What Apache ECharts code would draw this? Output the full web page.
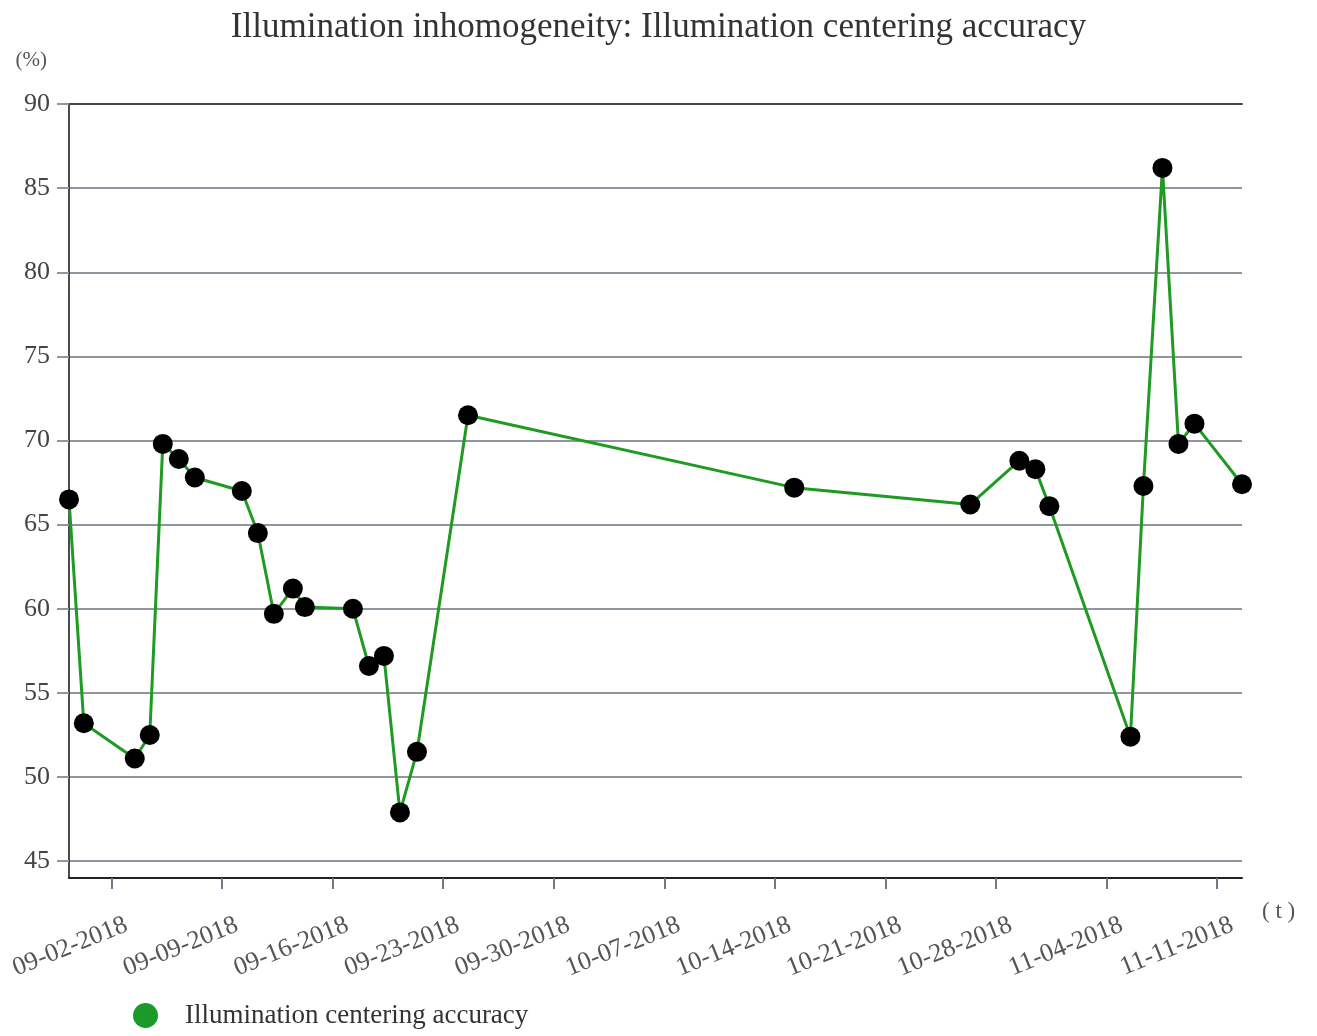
<!DOCTYPE html>
<html>
<head>
<meta charset="utf-8">
<script src="https://cdn.jsdelivr.net/npm/echarts@6/dist/echarts.min.js"></script>
<style>html,body{margin:0;padding:0;background:#fff}#c{width:1317px;height:1036px}</style>
</head>
<body>
<div id="c"></div>
<script>
const titleText = 'Illumination inhomogeneity: Illumination centering accuracy';
const seriesName = 'Illumination centering accuracy';
const dates = [
  '2018-08-30 07:30','2018-08-31 06:00','2018-09-03 11:25','2018-09-04 10:13','2018-09-05 06:00',
  '2018-09-06 06:19','2018-09-07 06:39','2018-09-10 06:06','2018-09-11 06:26','2018-09-12 06:45',
  '2018-09-13 11:38','2018-09-14 05:53','2018-09-17 06:52','2018-09-18 07:10','2018-09-19 05:58',
  '2018-09-20 06:19','2018-09-21 08:10','2018-09-24 13:42','2018-10-15 05:20','2018-10-26 08:53',
  '2018-10-29 11:23','2018-10-30 11:43','2018-10-31 09:00','2018-11-05 12:09','2018-11-06 07:55',
  '2018-11-07 12:49','2018-11-08 13:08','2018-11-09 13:28','2018-11-12 13:40'
];
const values = [
  66.5, 53.2, 51.1, 52.5, 69.8,
  68.9, 67.8, 67.0, 64.5, 59.7,
  61.2, 60.1, 60.0, 56.6, 57.2,
  47.9, 51.5, 71.5, 67.2, 66.2,
  68.8, 68.3, 66.1, 52.4, 67.3,
  86.2, 69.8, 71.0, 67.4
];
const tickDates = ['2018-09-02','2018-09-09','2018-09-16','2018-09-23','2018-09-30','2018-10-07',
  '2018-10-14','2018-10-21','2018-10-28','2018-11-04','2018-11-11'];

function parseLocal(s){
  const [d,t] = s.split(' ');
  const [y,m,dd] = d.split('-').map(Number);
  let hh=0, mm=0;
  if (t){ [hh,mm] = t.split(':').map(Number); }
  return new Date(y, m-1, dd, hh, mm).getTime();
}
const DAY = 86400000;
const LABEL_SHIFT = 0.95 * DAY;
const tickValues = tickDates.map(parseLocal);
const labelValues = tickValues.map(v => v + LABEL_SHIFT);
const pad = n => (n < 10 ? '0' : '') + n;
function fmt(v){
  const d = new Date(Math.round((v - LABEL_SHIFT) / 3600000) * 3600000);
  return pad(d.getMonth()+1) + '-' + pad(d.getDate()) + '-' + d.getFullYear();
}
const seriesData = dates.map((d,i) => [parseLocal(d), values[i]]);
const xMin = seriesData[0][0], xMax = seriesData[seriesData.length-1][0];

const FONT = 'Liberation Serif';
const chart = echarts.init(document.getElementById('c'));
chart.setOption({
  animation: false,
  backgroundColor: '#fff',
  title: {
    text: titleText, left: 'center', top: 5,
    textStyle: {fontFamily: FONT, fontSize: 35, fontWeight: 'normal', color: '#333'}
  },
  legend: {
    left: 128, top: 997, icon: 'circle', itemWidth: 25, itemHeight: 25,
    data: [{name: seriesName, itemStyle: {color: '#1b9a2a'}}],
    textStyle: {fontFamily: FONT, fontSize: 27, color: '#333', padding: [0,0,0,22]}
  },
  grid: {left: 69, right: 75, top: 104, bottom: 158, containLabel: false},
  xAxis: [{
    type: 'value',
    min: xMin, max: xMax, scale: true,
    name: '( t )', nameLocation: 'end', nameGap: 20,
    nameTextStyle: {fontFamily: FONT, fontSize: 23, color: '#555', align: 'left', verticalAlign: 'top', padding: [22,0,0,0]},
    axisLine: {show: true, lineStyle: {color: '#222', width: 2}},
    axisTick: {show: true, length: 11, lineStyle: {color: '#6e7b86', width: 2}, customValues: tickValues},
    axisLabel: {
      customValues: labelValues, rotate: 22, margin: 46, align: 'right', verticalAlign: 'middle',
      fontFamily: FONT, fontSize: 26, color: '#555', formatter: fmt
    },
    splitLine: {show: false}
  }, {
    type: 'value', position: 'top', min: xMin, max: xMax, scale: true,
    axisLine: {show: true, lineStyle: {color: '#3e4850', width: 2}},
    axisTick: {show: false}, axisLabel: {show: false}, splitLine: {show: false}
  }],
  yAxis: {
    type: 'value', min: 44, max: 90, splitNumber: 10,
    name: '(%)', nameLocation: 'end', nameGap: 44,
    nameTextStyle: {fontFamily: FONT, fontSize: 21, color: '#555', align: 'right', verticalAlign: 'middle', padding: [0,22,0,0]},
    axisLine: {show: true, lineStyle: {color: '#111', width: 1.5}},
    axisTick: {show: true, length: 12, lineStyle: {color: '#8e979f', width: 2}},
    axisLabel: {showMinLabel: false, margin: 19, fontFamily: FONT, fontSize: 26, color: '#444', padding: [4,0,0,0]},
    splitLine: {show: true, lineStyle: {color: '#8e979f', width: 2}}
  },
  series: [{
    name: seriesName, type: 'line', data: seriesData, xAxisIndex: 0,
    symbol: 'circle', symbolSize: 20, showAllSymbol: true,
    lineStyle: {color: '#1f9a22', width: 3},
    itemStyle: {color: '#000'}
  }]
});
</script>
</body>
</html>
